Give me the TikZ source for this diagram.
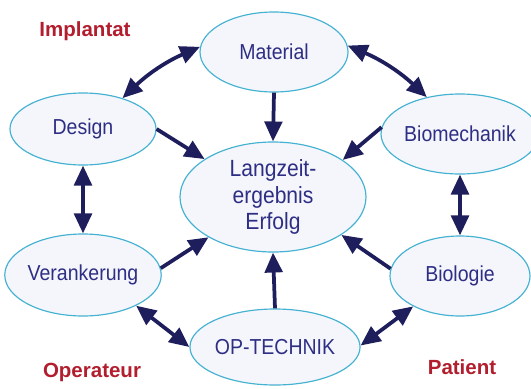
\documentclass[tikz,border=0pt]{standalone}
\usepackage{fontspec}
\setmainfont{Liberation Sans}
\newfontfamily\nodefont[FakeStretch=0.9]{Liberation Sans}
\usepackage{tikz}
\usetikzlibrary{arrows.meta,shapes.geometric}
\definecolor{navy}{HTML}{1E1E5C}
\definecolor{txtblue}{HTML}{2E2E84}
\definecolor{rimcyan}{HTML}{45B2D2}
\definecolor{fillgray}{HTML}{F5F6FB}
\definecolor{darkred}{HTML}{B21E2E}

\begin{document}
\begin{tikzpicture}[x=0.03cm, y=-0.03cm,
	factor/.style={ellipse, draw=rimcyan, line width=1pt, fill=fillgray, inner sep=0pt,
		text=txtblue, font=\nodefont\fontsize{18.5}{22}\selectfont, align=center},
	link/.style={navy, line width=3.2pt, -{Triangle[length=17pt, width=15pt]}},
	both/.style={link, {Triangle[length=17pt, width=15pt]}-{Triangle[length=17pt, width=15pt]}},
	group/.style={text=darkred, font=\fontsize{17.5}{20}\selectfont\bfseries}]
	\useasboundingbox (0,0) rectangle (531,388);
	\node[factor, minimum width=4.44cm, minimum height=2.4cm] (mat) at (274, 52) {Material};
	\node[factor, minimum width=4.38cm, minimum height=2.16cm] (des) at (83, 129) {Design};
	\node[factor, minimum width=4.2cm, minimum height=2.4cm] (bme) at (460, 134) {Biomechanik};
	\node[factor, minimum width=5.58cm, minimum height=3.3cm,
		font=\nodefont\fontsize{20}{22.5}\selectfont] (lang) at (273, 197) {Langzeit-\\ergebnis\\Erfolg};
	\node[factor, minimum width=4.38cm, minimum height=2.46cm] (ver) at (83, 275) {Verankerung};
	\node[factor, minimum width=4.2cm, minimum height=2.4cm] (bio) at (460, 276) {Biologie};
	\node[factor, minimum width=4.32cm, minimum height=2.28cm] (op) at (275, 347) {OP-TECHNIK};
	\node[group] (impl) at (85, 31) {Implantat};
	\node[group] (oper) at (92, 372) {Operateur};
	\node[group] (pat) at (462, 367) {Patient};
	\draw[both] (mat.176) to[bend right=10] (des.38);
	\draw[both] (mat.5) to[bend left=10] (bme.132);
	\draw[both] (des.south) -- (ver.north);
	\draw[both] (bme.south) -- (bio.north);
	\draw[both] (ver.330) -- (op.180);
	\draw[both] (bio.213) -- (op.1);
	\draw[link] (mat.south) -- (lang.north);
	\draw[link] (des.east) -- (lang.151);
	\draw[link] (bme.175) -- (lang.28);
	\draw[link] (ver.5) -- (lang.212);
	\draw[link] (bio.174) -- (lang.331);
	\draw[link] (op.north) -- (lang.south);
\end{tikzpicture}
\end{document}
